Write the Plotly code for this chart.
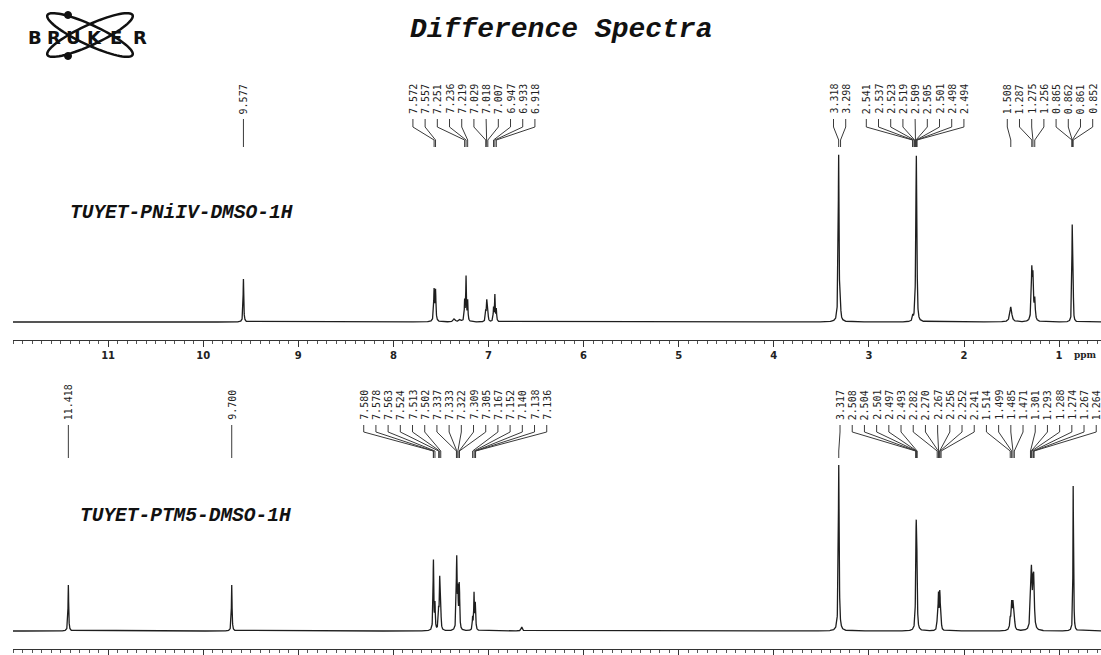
import numpy as np
import plotly.graph_objects as go

W, H = 1101, 655

# ---------------- data ----------------
ppm_ticks = [11, 10, 9, 8, 7, 6, 5, 4, 3, 2, 1]

title_text = "Difference Spectra"
top_name = "TUYET-PNiIV-DMSO-1H"
bottom_name = "TUYET-PTM5-DMSO-1H"

# top spectrum: line positions (ppm), amplitudes, half widths (ppm)
top_ppm = [9.577, 7.572, 7.557, 7.360, 7.300, 7.251, 7.236, 7.219,
           7.029, 7.018, 7.007, 6.947, 6.933, 6.918, 3.318, 3.298,
           2.541, 2.537, 2.523, 2.519, 2.509, 2.505, 2.501, 2.498, 2.494,
           1.508, 1.287, 1.275, 1.256, 0.865, 0.862, 0.861, 0.852]
top_amp = [43, 31, 30, 3, 2.5, 20, 44, 20,
           11, 20, 11, 13, 26, 12, 167, 8,
           3, 3, 2, 2, 20, 50, 100, 50, 20,
           15, 48, 40, 20, 25, 55, 30, 35]
top_hw = [0.004, 0.005, 0.005, 0.012, 0.012, 0.004, 0.004, 0.004,
          0.004, 0.004, 0.004, 0.004, 0.004, 0.004, 0.005, 0.004,
          0.004, 0.004, 0.004, 0.004, 0.004, 0.004, 0.004, 0.004, 0.004,
          0.012, 0.006, 0.006, 0.006, 0.003, 0.003, 0.003, 0.003]

# bottom spectrum
bot_ppm = [11.418, 9.700, 7.580, 7.578, 7.563, 7.524, 7.513, 7.502,
           7.337, 7.333, 7.322, 7.309, 7.305, 7.167, 7.152, 7.140, 7.138, 7.136,
           6.650, 3.317, 2.508, 2.504, 2.501, 2.497, 2.493,
           2.282, 2.270, 2.267, 2.256, 2.252, 2.241,
           1.514, 1.499, 1.485, 1.471,
           1.301, 1.293, 1.288, 1.274, 1.267, 1.264, 0.852, 0.845]
bot_amp = [46, 46, 42, 32, 25, 20, 50, 20,
           30, 55, 35, 30, 25, 12, 36, 12, 10, 8,
           4, 166, 20, 50, 45, 50, 20,
           8, 20, 20, 24, 22, 10,
           10, 25, 25, 10,
           18, 35, 30, 32, 25, 20, 140, 20]
bot_hw = [0.004, 0.004, 0.004, 0.004, 0.004, 0.004, 0.004, 0.004,
          0.004, 0.004, 0.004, 0.004, 0.004, 0.004, 0.004, 0.004, 0.004, 0.004,
          0.008, 0.005, 0.004, 0.004, 0.004, 0.004, 0.004,
          0.004, 0.004, 0.004, 0.004, 0.004, 0.004,
          0.006, 0.006, 0.006, 0.006,
          0.006, 0.006, 0.006, 0.006, 0.006, 0.006, 0.003, 0.004]

# peak-pick labels (ppm), grouped as printed
top_label_groups = [
    [9.577],
    [7.572, 7.557, 7.251, 7.236, 7.219, 7.029, 7.018, 7.007, 6.947, 6.933, 6.918],
    [3.318, 3.298],
    [2.541, 2.537, 2.523, 2.519, 2.509, 2.505, 2.501, 2.498, 2.494],
    [1.508, 1.287, 1.275, 1.256, 0.865, 0.862, 0.861, 0.852],
]
bot_label_groups = [
    [11.418],
    [9.700],
    [7.580, 7.578, 7.563, 7.524, 7.513, 7.502, 7.337, 7.333, 7.322, 7.309,
     7.305, 7.167, 7.152, 7.140, 7.138, 7.136],
    [3.317, 2.508, 2.504, 2.501, 2.497, 2.493, 2.282, 2.270, 2.267, 2.256,
     2.252, 2.241, 1.514, 1.499, 1.485, 1.471, 1.301, 1.293, 1.288, 1.274,
     1.267, 1.264],
]

# ---------------- geometry ----------------
PX_PER_PPM = 95.1
X_LEFT_PX = 13
X_HI = 12.0
X_LO = X_HI - (W - X_LEFT_PX) / PX_PER_PPM
LABEL_SP = 12.2 / PX_PER_PPM


def spectrum(pos, amp, hw):
    grid = [np.linspace(X_LO, X_HI, 2500)]
    for p, w in zip(pos, hw):
        grid.append(np.linspace(p - 10 * w, p + 10 * w, 81))
        grid.append(np.array([p]))
    x = np.unique(np.concatenate(grid))
    x = x[(x >= X_LO) & (x <= X_HI)]
    y = np.zeros_like(x)
    for p, a, w in zip(pos, amp, hw):
        y += a / (1.0 + ((x - p) / w) ** 2)
    return np.round(x, 5), np.round(y, 2)


xt, yt = spectrum(top_ppm, top_amp, top_hw)
xb, yb = spectrum(bot_ppm, bot_amp, bot_hw)

fig = go.Figure()
fig.add_trace(go.Scatter(x=xt, y=yt, mode="lines", xaxis="x", yaxis="y",
                         line=dict(color="#1e1e1e", width=1.3), hoverinfo="skip"))
fig.add_trace(go.Scatter(x=xb, y=yb, mode="lines", xaxis="x2", yaxis="y2",
                         line=dict(color="#1e1e1e", width=1.3), hoverinfo="skip"))

annotations = []
lead_x, lead_y = [], []


def add_labels(groups, y_text, y_a, y_b, y_c):
    for g in groups:
        n = len(g)
        c = float(np.mean(g))
        for i, v in enumerate(g):
            xl = c + ((n - 1) / 2 - i) * LABEL_SP
            annotations.append(dict(
                x=xl, y=y_text, xref="x", yref="y3", text=f"{v:.3f}",
                textangle=-90, showarrow=False, xanchor="center", yanchor="bottom",
                font=dict(family="DejaVu Sans Mono", size=10, color="#222")))
            lead_x.extend([xl, xl, v, v, None])
            lead_y.extend([y_text + 3, y_a, y_b, y_c, None])


add_labels(top_label_groups, 116, 127, 140, 147)
add_labels(bot_label_groups, 422, 432, 451, 458)

fig.add_trace(go.Scatter(x=lead_x, y=lead_y, mode="lines", xaxis="x", yaxis="y3",
                         line=dict(color="#3a3a3a", width=1), hoverinfo="skip"))

axis_common = dict(
    range=[X_HI, X_LO], domain=[X_LEFT_PX / W, 1], showgrid=False, zeroline=False,
    showline=True, linecolor="#333", linewidth=1, ticks="outside", ticklen=6,
    tickwidth=1, tickcolor="#333", tickmode="array", tickvals=ppm_ticks,
    ticktext=[str(t) for t in ppm_ticks],
    minor=dict(tickmode="linear", tick0=0, dtick=0.1, ticklen=3, ticks="outside",
               tickcolor="#555", tickwidth=1, showgrid=False),
    tickfont=dict(family="DejaVu Sans", size=10, color="#222", weight="bold"),
    fixedrange=True)

# text
annotations.append(dict(
    x=561 / W, y=1 - 30 / H, xref="paper", yref="paper", text=title_text,
    showarrow=False, xanchor="center", yanchor="middle",
    font=dict(family="Liberation Mono", size=28, color="#111", style="italic", weight="bold")))
annotations.append(dict(
    x=68 / W, y=1 - 213 / H, xref="paper", yref="paper", text=top_name,
    showarrow=False, xanchor="left", yanchor="middle",
    font=dict(family="Liberation Mono", size=19.5, color="#111", style="italic", weight="bold")))
annotations.append(dict(
    x=78 / W, y=1 - 516 / H, xref="paper", yref="paper", text=bottom_name,
    showarrow=False, xanchor="left", yanchor="middle",
    font=dict(family="Liberation Mono", size=19.5, color="#111", style="italic", weight="bold")))
annotations.append(dict(
    x=1072 / W, y=1 - 355 / H, xref="paper", yref="paper", text="ppm",
    showarrow=False, xanchor="left", yanchor="middle",
    font=dict(family="DejaVu Serif", size=9, color="#222", weight="bold")))

# Bruker logo
shapes = []


def ellipse_path(cx, cy, a, b, ang_deg, n=72):
    t = np.linspace(0, 2 * np.pi, n)
    ang = np.radians(ang_deg)
    xs = cx + a * np.cos(t) * np.cos(ang) - b * np.sin(t) * np.sin(ang)
    ys = cy + a * np.cos(t) * np.sin(ang) + b * np.sin(t) * np.cos(ang)
    pts = [f"{x / W:.5f},{1 - y / H:.5f}" for x, y in zip(xs, ys)]
    return "M" + " L".join(pts) + " Z"


for ang in (25, -25):
    shapes.append(dict(type="path", xref="paper", yref="paper",
                       path=ellipse_path(90, 35, 47, 10, ang),
                       line=dict(color="#111", width=2.5)))
for (dx, dy) in ((68, 15), (68, 56)):
    shapes.append(dict(type="circle", xref="paper", yref="paper",
                       x0=(dx - 3.5) / W, x1=(dx + 3.5) / W,
                       y0=1 - (dy + 3.5) / H, y1=1 - (dy - 3.5) / H,
                       fillcolor="#111", line=dict(color="#111", width=1)))
logo_letters = "BRUKER"
logo_x = [35, 54, 73, 94, 116, 140]
for ch, lx in zip(logo_letters, logo_x):
    annotations.append(dict(
        x=lx / W, y=1 - 37 / H, xref="paper", yref="paper", text=ch,
        showarrow=False, xanchor="center", yanchor="middle",
        font=dict(family="DejaVu Sans", size=18, color="#111", weight="bold")))

fig.update_layout(
    width=W, height=H, margin=dict(l=0, r=0, t=0, b=0),
    paper_bgcolor="white", plot_bgcolor="rgba(0,0,0,0)", showlegend=False,
    xaxis=dict(**axis_common, anchor="y"),
    xaxis2=dict(**axis_common, anchor="y2", showticklabels=False),
    yaxis=dict(domain=[1 - 340 / H, 1 - 150 / H], range=[-18, 172], visible=False,
               anchor="x", fixedrange=True),
    yaxis2=dict(domain=[1 - 649 / H, 1 - 459 / H], range=[-18, 172], visible=False,
                anchor="x2", fixedrange=True),
    yaxis3=dict(domain=[0, 1], range=[H, 0], visible=False, anchor="x", fixedrange=True),
    annotations=annotations, shapes=shapes,
)

fig.write_html("out.html", config={"displayModeBar": False})
